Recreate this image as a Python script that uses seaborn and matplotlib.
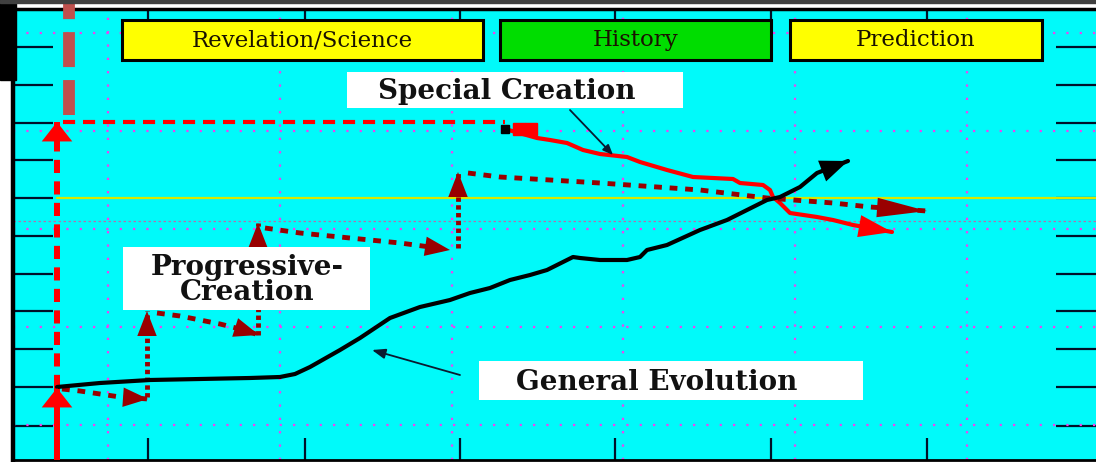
import matplotlib
matplotlib.use("Agg")
import matplotlib.pyplot as plt
from matplotlib.patches import Rectangle
import seaborn as sns

evo_x = [57, 100, 150, 200, 250, 280, 295, 310, 340, 360, 390, 420, 450, 470, 490, 510,
         530, 547, 573, 580, 600, 627, 640, 647, 667, 700, 727, 747, 767, 780, 800, 817, 848]
evo_y = [387, 383, 380, 379, 378, 377, 374, 367, 350, 338, 318, 307, 300, 293, 288, 280,
         275, 270, 257, 258, 260, 260, 257, 250, 245, 230, 220, 210, 200, 197, 187, 173, 161]

sc_x = [505, 537, 550, 567, 583, 600, 627, 640, 667, 693, 733, 740, 763, 770, 773, 780,
        790, 817, 833, 853, 892]
sc_y = [129, 138, 140, 143, 150, 154, 157, 162, 170, 177, 179, 183, 185, 190, 197, 203,
        213, 217, 220, 225, 232]
sc_mark_x = [519, 531]
sc_mark_y = [129, 129]

flat_x = [63, 505]
flat_y = [122, 122]
rise_x = [57, 57]
rise_y = [388, 122]
base_x = [57, 57]
base_y = [462, 388]
top_x = [69, 69]
top_y = [115, 0]
ref_x = [57, 1096]
ref_y = [198, 198]

# progressive creation steps
pc_steps = [
    ([62, 80, 100, 120, 148], [389, 391, 394, 397, 399]),
    ([147, 147], [397, 311]),
    ([157, 180, 200, 220, 240, 259], [313, 316, 320, 324, 329, 335]),
    ([258, 258], [335, 223]),
    ([265, 300, 350, 400, 430, 450], [228, 233, 238, 243, 247, 250]),
    ([458, 458], [248, 172]),
    ([468, 500, 600, 700, 767, 833, 870, 927], [173, 177, 183, 190, 198, 203, 207, 211]),
]

left_ticks = [47, 85, 123, 160, 198, 236, 274, 311, 349, 387, 426]
bottom_ticks = [148, 305, 460, 615, 771, 927]
grid_x = [108, 280, 452, 623, 795, 967]
grid_y = [33, 131, 229, 327, 425]

phases = ["Revelation/Science", "History", "Prediction"]
phase_colors = ["#ffff00", "#00dd00", "#ffff00"]
phase_spans = [(122, 483), (500, 771), (790, 1042)]

CYAN = "#00fafa"
DARKRED = "#990000"


def head(ax, xs, ys, color, length, width):
    ax.annotate("", xy=(xs[-1], ys[-1]), xytext=(xs[-2], ys[-2]),
                arrowprops=dict(arrowstyle=f"-|>,head_length={length},head_width={width}",
                                mutation_scale=1, color=color, lw=0,
                                shrinkA=0, shrinkB=0), zorder=6)


sns.set_style("white")
plt.rcParams["font.family"] = ["DejaVu Serif"]

fig = plt.figure(figsize=(10.96, 4.62), dpi=100)
fig.patch.set_facecolor("white")
ax = fig.add_axes([13 / 1096, 2 / 462, 1 - 13 / 1096, (460 - 9) / 462])
ax.set_facecolor(CYAN)
ax.set_xlim(13, 1096)
ax.set_ylim(460, 9)

# frame
ax.spines["right"].set_visible(False)
ax.spines["left"].set_linewidth(3.2)
ax.spines["top"].set_linewidth(2.5)
ax.spines["bottom"].set_linewidth(2)
for side in ["left", "top", "bottom"]:
    ax.spines[side].set_color("black")

ax.set_yticks(left_ticks)
ax.set_xticks(bottom_ticks)
ax.set_yticklabels([])
ax.set_xticklabels([])
ax.tick_params(axis="y", which="major", direction="in", left=True, right=True,
               length=29, width=1.6, color="#001028")
ax.tick_params(axis="x", which="major", direction="in", bottom=True, top=False,
               length=16, width=1.6, color="#001028")
top = ax.secondary_xaxis("top")
top.set_xticks(bottom_ticks)
top.set_xticklabels([])
top.tick_params(direction="in", length=8, width=1.6, color="#001028")
top.spines["top"].set_visible(False)

ax.set_xticks(grid_x, minor=True)
ax.set_yticks(grid_y, minor=True)
ax.tick_params(which="minor", length=0)
ax.grid(which="minor", color="#f040f0", linestyle=(0, (1, 5)), linewidth=1.6)
ax.axhline(221, color="#b070b0", linestyle=(0, (2, 2)), linewidth=0.9, zorder=1)

# black block in the upper-left corner
fig.patches.append(Rectangle((0, 1 - 80 / 462), 16 / 1096, 80 / 462,
                             transform=fig.transFigure, color="black", zorder=0))
fig.patches.append(Rectangle((0, 1 - 3 / 462), 1, 3 / 462,
                             transform=fig.transFigure, color="#404040", zorder=0))

# reference line
sns.lineplot(x=ref_x, y=ref_y, ax=ax, color="#d8e800", lw=1.6, sort=False,
             estimator=None, zorder=2)

# special creation
sns.lineplot(x=top_x, y=top_y, ax=ax, color="#c0504d", lw=8.5, sort=False,
             estimator=None, zorder=3)
ax.lines[-1].set_dashes([2.96, 1.1])
ax.lines[-1].set_clip_on(False)
sns.lineplot(x=base_x, y=base_y, ax=ax, color="red", lw=4.3, sort=False,
             estimator=None, zorder=4)
head(ax, base_x, base_y, "red", 14, 11)
sns.lineplot(x=rise_x, y=rise_y, ax=ax, color="red", lw=4.3, sort=False,
             estimator=None, zorder=4)
ax.lines[-1].set_dashes([2.2, 1.4])
head(ax, rise_x, [160, 122], "red", 14, 11)
sns.lineplot(x=flat_x, y=flat_y, ax=ax, color="red", lw=3, sort=False,
             estimator=None, zorder=4)
ax.lines[-1].set_dashes([2.9, 1.9])
sns.lineplot(x=sc_x, y=sc_y, ax=ax, color="red", lw=3, sort=False,
             estimator=None, zorder=4)
head(ax, sc_x, sc_y, "red", 24, 8)
ax.plot(sc_mark_x, sc_mark_y, marker="s", ms=9, color="red", lw=0, zorder=5)
ax.plot([sc_x[0]], [sc_y[0]], marker="s", ms=6, color="black", lw=0, zorder=5)

# progressive creation
for i, (xs, ys) in enumerate(pc_steps):
    sns.lineplot(x=xs, y=ys, ax=ax, color=DARKRED, lw=3.5, sort=False,
                 estimator=None, zorder=4)
    vertical = xs[0] == xs[-1]
    ax.lines[-1].set_dashes([0.9, 0.7] if vertical else [1.6, 1.6])
    if i == len(pc_steps) - 1:
        head(ax, xs, ys, DARKRED, 36, 7)
    else:
        head(ax, xs, ys, DARKRED, 18, 7)

# general evolution
sns.lineplot(x=evo_x, y=evo_y, ax=ax, color="black", lw=3, sort=False,
             estimator=None, zorder=5)
head(ax, evo_x, evo_y, "black", 20, 8)

# phase boxes
for name, color, (x0, x1) in zip(phases, phase_colors, phase_spans):
    ax.add_patch(Rectangle((x0 + 2, 22), x1 - x0, 40, facecolor="black",
                           edgecolor="none", zorder=7))
    ax.add_patch(Rectangle((x0, 20), x1 - x0, 40, facecolor=color,
                           edgecolor="black", lw=2.2, zorder=8))
    ax.text((x0 + x1) / 2, 40, name, ha="center", va="center", fontsize=16.5,
            color="#1a1200", zorder=9)

# labels
label_style = dict(ha="center", va="center", fontsize=20, fontweight="bold",
                   color="#111111", zorder=9)
ax.add_patch(Rectangle((347, 72), 336, 36, facecolor="white", edgecolor="none", zorder=8))
ax.text(507, 91, "Special Creation", **label_style)
ax.add_patch(Rectangle((123, 247), 247, 63, facecolor="white", edgecolor="none", zorder=8))
ax.text(247, 280, "Progressive-\nCreation", linespacing=0.92, **label_style)
ax.add_patch(Rectangle((479, 361), 384, 39, facecolor="white", edgecolor="none", zorder=8))
ax.text(657, 382, "General Evolution", **label_style)

ax.annotate("", xy=(613, 155), xytext=(570, 110),
            arrowprops=dict(arrowstyle="-|>,head_length=6,head_width=2.5",
                            mutation_scale=1, color="#0a1a30", lw=1.3,
                            shrinkA=0, shrinkB=0), zorder=6)
ax.annotate("", xy=(372, 350), xytext=(460, 375),
            arrowprops=dict(arrowstyle="-|>,head_length=8,head_width=3",
                            mutation_scale=1, color="#0a1a30", lw=1.3,
                            shrinkA=0, shrinkB=0), zorder=6)

fig.savefig("out.png", dpi=100, facecolor=fig.get_facecolor())
